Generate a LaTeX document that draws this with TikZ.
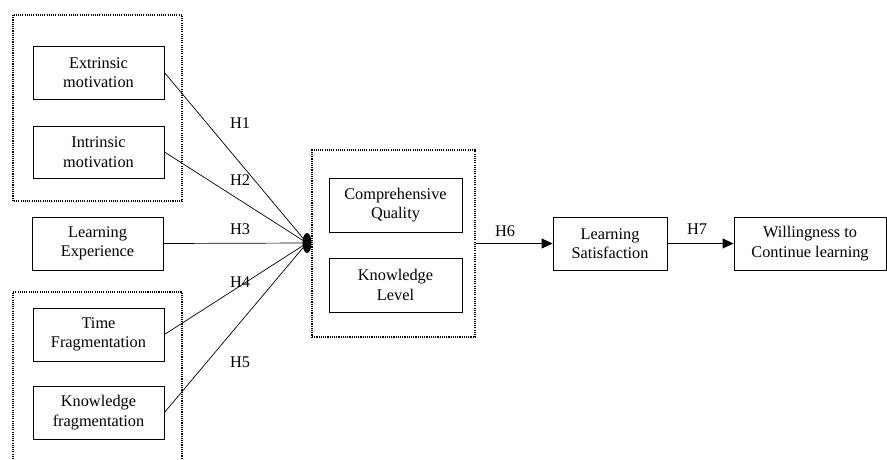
\documentclass[tikz,border=0pt]{standalone}
\usepackage{fontspec}
\setmainfont{Liberation Serif}
\usetikzlibrary{arrows.meta,shapes.geometric}
\begin{document}
\begin{tikzpicture}[x=1pt,y=-1pt,
  box/.style={draw,line width=0.9pt,rectangle,align=center,inner sep=0pt,
    font=\fontsize{16.3}{19.5}\selectfont},
  grp/.style={draw,line width=1.1pt,dash pattern=on 1.1pt off 1.1pt},
  hlab/.style={font=\fontsize{16.3}{19.5}\selectfont,inner sep=0pt},
  link/.style={line width=0.7pt},
  arr/.style={line width=1pt,-{Triangle[length=11pt,width=10pt]}}]
\useasboundingbox (0,0) rectangle (887,459);
% groups
\draw[grp] (13,15) rectangle (182,201);
\draw[grp] (13,459) -- (13,292) -- (182,292) -- (182,459);
\node[grp,rectangle,minimum width=163pt,minimum height=187pt,inner sep=0pt] (mid) at (393.5,243.5) {};
% boxes
\node[box,minimum width=131pt,minimum height=53pt] (ext) at (98.5,72.5) {Extrinsic\\motivation};
\node[box,minimum width=131pt,minimum height=52pt] (intr) at (98.5,152) {Intrinsic\\motivation};
\node[box,minimum width=131pt,minimum height=53pt] (le) at (97.5,243.5) {Learning\\Experience};
\node[box,minimum width=131pt,minimum height=53pt] (tf) at (98.5,334.5) {Time\\Fragmentation};
\node[box,minimum width=131pt,minimum height=53pt] (kf) at (98.5,412.5) {Knowledge\\fragmentation};
\node[box,minimum width=133pt,minimum height=54pt] (cq) at (395.5,205) {Comprehensive\\Quality};
\node[box,minimum width=133pt,minimum height=54pt] (kl) at (395.5,285) {Knowledge\\Level};
\node[box,minimum width=114pt,minimum height=53pt] (ls) at (610,243.5) {Learning\\Satisfaction};
\node[box,minimum width=152pt,minimum height=53pt] (wc) at (810,243.5) {Willingness to\\Continue learning};
% hub
\coordinate (hub) at (307,243);
\draw[link] (ext.east) -- (hub);
\draw[link] (intr.east) -- (hub);
\draw[link] (le.east) -- (hub);
\draw[link] (tf.east) -- (hub);
\draw[link] (kf.east) -- (hub);
\node[ellipse,fill=black,minimum width=9pt,minimum height=20pt,inner sep=0pt] (blob) at (307,243) {};
\draw[arr] (mid.east) -- (ls.west);
\draw[arr] (ls.east) -- (wc.west);
% labels
\node[hlab] (h1) at (240,123) {H1};
\node[hlab] (h2) at (240,180) {H2};
\node[hlab] (h3) at (240,229) {H3};
\node[hlab] (h4) at (240,282) {H4};
\node[hlab] (h5) at (240,362) {H5};
\node[hlab] (h6) at (505,231) {H6};
\node[hlab] (h7) at (697,229) {H7};
\end{tikzpicture}
\end{document}
